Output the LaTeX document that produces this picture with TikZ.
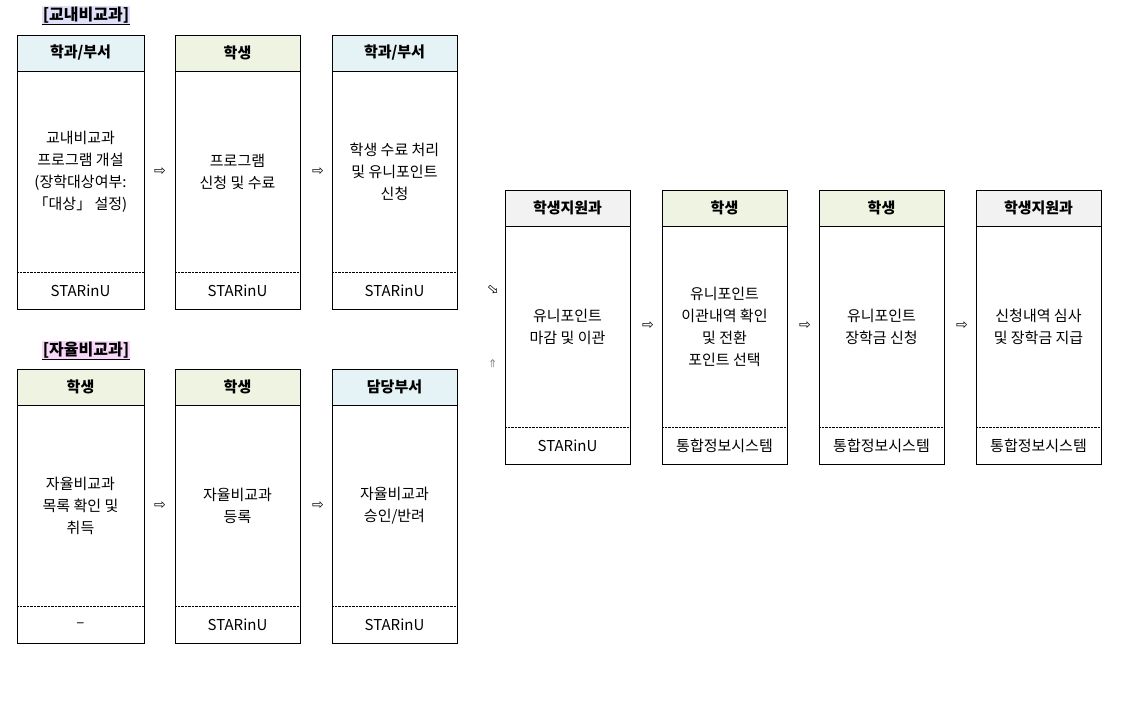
\documentclass[tikz,border=0pt]{standalone}
\usepackage{fontspec}
\setmainfont{Noto Sans CJK KR}
\newfontfamily\dejavu{DejaVu Sans}
\definecolor{hblue}{HTML}{E5F2F6}
\definecolor{hgreen}{HTML}{EEF3E2}
\definecolor{hgray}{HTML}{F2F2F2}
\definecolor{tlav}{HTML}{E0E0FA}
\definecolor{tpink}{HTML}{F8D8F8}
\begin{document}
\begin{tikzpicture}[x=1pt,y=-1pt,
  txt/.style={align=center,font=\fontsize{15}{22}\selectfont},
  hd/.style={font=\fontsize{15}{18}\selectfont\bfseries},
  arr/.style={font=\dejavu\fontsize{14}{14}\selectfont}]
\useasboundingbox[fill=white] (0,0) rectangle (1135,705);
% box macro: #1 x0, #2 y0, #3 x1, #4 y1 (bottom), #5 color, #6 header, #7 body, #8 footer, #9 name
\newcommand{\flowbox}[9]{%
  \fill[#5] (#1,#2) rectangle (#3,#2+36);
  \draw (#1,#2) rectangle (#3,#4);
  \draw (#1,#2+36) -- (#3,#2+36);
  \draw[densely dotted] (#1,#4-37) -- (#3,#4-37);
  \node[hd] (#9h) at ({(#1+#3)/2},#2+18) {#6};
  \node[txt] (#9) at ({(#1+#3)/2},{(#2+36+#4-37)/2}) {#7};
  \node[txt] (#9f) at ({(#1+#3)/2},#4-18) {#8};
}
\node[font=\fontsize{16}{18}\selectfont\bfseries,fill=tlav,inner sep=1pt] (t1) at (86,15) {[교내비교과]};
\draw[line width=1.2pt] (t1.south west) -- (t1.south east);
\node[font=\fontsize{16}{18}\selectfont\bfseries,fill=tpink,inner sep=1pt] (t2) at (86,350) {[자율비교과]};
\draw[line width=1.2pt] (t2.south west) -- (t2.south east);

\flowbox{17}{35}{144}{309}{hblue}{학과/부서}{교내비교과\\프로그램 개설\\(장학대상여부:\\「대상」 설정)}{STARinU}{a1}
\flowbox{175}{35}{300}{309}{hgreen}{학생}{프로그램\\신청 및 수료}{STARinU}{a2}
\flowbox{332}{35}{457}{309}{hblue}{학과/부서}{학생 수료 처리\\및 유니포인트\\신청}{STARinU}{a3}

\flowbox{17}{369}{144}{643}{hgreen}{학생}{자율비교과\\목록 확인 및\\취득}{–}{b1}
\flowbox{175}{369}{300}{643}{hgreen}{학생}{자율비교과\\등록}{STARinU}{b2}
\flowbox{332}{369}{457}{643}{hblue}{담당부서}{자율비교과\\승인/반려}{STARinU}{b3}

\flowbox{505}{190}{630}{464}{hgray}{학생지원과}{유니포인트\\마감 및 이관}{STARinU}{c1}
\flowbox{662}{190}{787}{464}{hgreen}{학생}{유니포인트\\이관내역 확인\\및 전환\\포인트 선택}{통합정보시스템}{c2}
\flowbox{819}{190}{944}{464}{hgreen}{학생}{유니포인트\\장학금 신청}{통합정보시스템}{c3}
\flowbox{976}{190}{1101}{464}{hgray}{학생지원과}{신청내역 심사\\및 장학금 지급}{통합정보시스템}{c4}

\node[arr] (r1) at (160,172) {⇨};
\node[arr] (r2) at (318,172) {⇨};
\node[arr] (r3) at (160,506) {⇨};
\node[arr] (r4) at (318,506) {⇨};
\node[arr] (r5) at (648,326) {⇨};
\node[arr] (r6) at (805,326) {⇨};
\node[arr] (r7) at (962,326) {⇨};
\node[arr,rotate=-40] (d1) at (493,290) {⇨};
\node[arr,rotate=45,gray,font=\dejavu\fontsize{11}{11}\selectfont] (d2) at (493,364) {⇗};
\end{tikzpicture}
\end{document}
